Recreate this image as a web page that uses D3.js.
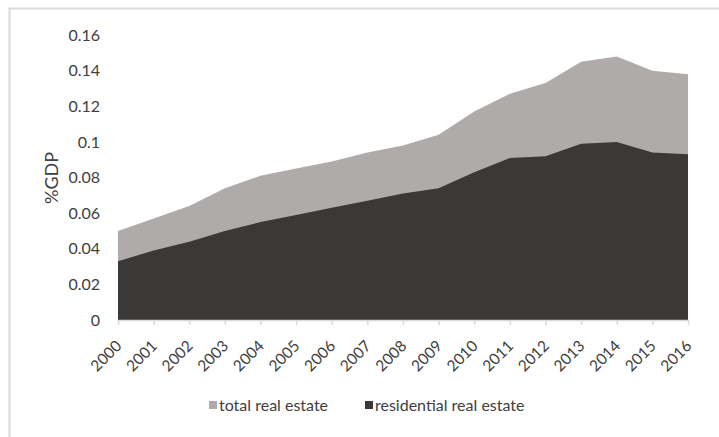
<!DOCTYPE html>
<html>
<head>
<meta charset="utf-8">
<script src="https://cdn.jsdelivr.net/npm/d3@7"></script>
<style>
  html, body { margin: 0; padding: 0; background: #fff; }
  svg { display: block; font-family: Lato, "Liberation Sans", sans-serif; }
</style>
</head>
<body>
<svg id="chart" width="719" height="437"></svg>
<script>
// Real estate as a share of GDP, 2000–2016
const years = [2000, 2001, 2002, 2003, 2004, 2005, 2006, 2007, 2008, 2009, 2010, 2011, 2012, 2013, 2014, 2015, 2016];
const totalRealEstate = [0.050, 0.057, 0.064, 0.074, 0.081, 0.085, 0.089, 0.094, 0.098, 0.104, 0.117, 0.127, 0.133, 0.145, 0.148, 0.140, 0.138];
const residentialRealEstate = [0.033, 0.039, 0.044, 0.050, 0.055, 0.059, 0.063, 0.067, 0.071, 0.074, 0.083, 0.091, 0.092, 0.099, 0.100, 0.094, 0.093];
const yTicks = [0, 0.02, 0.04, 0.06, 0.08, 0.1, 0.12, 0.14, 0.16];
const seriesNames = ["total real estate", "residential real estate"];
const seriesColors = ["#AFABAB", "#3B3838"];

const svg = d3.select("#chart");

// chart frame (extends past the right and bottom edges)
svg.append("rect")
  .attr("x", 9.5).attr("y", 8.5)
  .attr("width", 730).attr("height", 450)
  .attr("fill", "none")
  .attr("stroke", "#D9D9D9")
  .attr("stroke-width", 2);

const x = d3.scalePoint().domain(years).range([118, 688]);
const y = d3.scaleLinear().domain([0, 0.16]).range([320, 35]);

const area = d3.area()
  .x((d, i) => x(years[i]))
  .y0(y(0))
  .y1(d => y(d));

// total drawn first, residential on top of it
[totalRealEstate, residentialRealEstate].forEach((vals, k) => {
  svg.append("path")
    .datum(vals)
    .attr("d", area)
    .attr("fill", seriesColors[k]);
});

// y axis labels (no line)
const yAxis = svg.append("g")
  .attr("transform", "translate(100,0)")
  .call(d3.axisLeft(y).tickValues(yTicks).tickSize(0).tickPadding(0)
    .tickFormat(d => String(+d.toFixed(2))));
yAxis.select(".domain").remove();
yAxis.selectAll("text")
  .attr("font-family", "Lato, sans-serif")
  .attr("font-size", 16)
  .attr("fill", "#404040");

// x axis
const xAxis = svg.append("g")
  .attr("transform", `translate(0,${y(0)})`)
  .call(d3.axisBottom(x).tickSize(5).tickSizeOuter(0));
xAxis.select(".domain").attr("stroke", "#D9D9D9").attr("stroke-width", 1.5);
xAxis.selectAll(".tick line").attr("stroke", "#D9D9D9").attr("stroke-width", 1.5);
xAxis.selectAll("text")
  .attr("font-family", "Lato, sans-serif")
  .attr("font-size", 15.5)
  .attr("fill", "#404040")
  .attr("text-anchor", "end")
  .attr("dy", null)
  .attr("y", null)
  .attr("transform", "translate(4,27) rotate(-45)");

// y axis title
svg.append("text")
  .attr("transform", "translate(58,178) rotate(-90)")
  .attr("text-anchor", "middle")
  .attr("font-size", 18)
  .attr("fill", "#404040")
  .text("%GDP");

// legend
const legendItems = [
  { name: seriesNames[0], color: seriesColors[0], x: 209 },
  { name: seriesNames[1], color: seriesColors[1], x: 365 }
];
const lg = svg.append("g");
legendItems.forEach(it => {
  lg.append("rect")
    .attr("x", it.x).attr("y", 401)
    .attr("width", 8).attr("height", 8)
    .attr("fill", it.color);
  lg.append("text")
    .attr("x", it.x + 10).attr("y", 411)
    .attr("font-size", 16)
    .attr("fill", "#404040")
    .text(it.name);
});
</script>
</body>
</html>
